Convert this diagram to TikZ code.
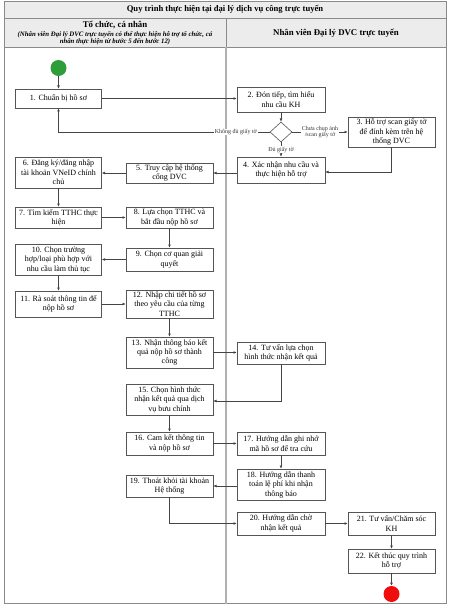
\documentclass[tikz,border=0pt]{standalone}
\usepackage{fontspec}
\setmainfont{Liberation Serif}
\usetikzlibrary{shapes.geometric,arrows.meta,calc}
\definecolor{framegray}{HTML}{8A8A8A}
\definecolor{headfill}{HTML}{ECECEC}
\definecolor{boxline}{HTML}{555555}
\definecolor{arrline}{HTML}{444444}
\definecolor{lanegray}{HTML}{B0B0B0}
\definecolor{startgreen}{HTML}{2E9E3A}
\definecolor{endred}{HTML}{F20D0D}
\tikzset{
  stepbox/.style={draw=boxline, line width=0.6pt, fill=white, align=center,
    font=\fontsize{8}{9.4}\selectfont, inner sep=0pt},
  colA/.style={stepbox, minimum width=86pt},
  colB/.style={stepbox, minimum width=87pt},
  colC/.style={stepbox, minimum width=88pt},
  colD/.style={stepbox, minimum width=87pt},
  arr/.style={draw=arrline, line width=0.55pt, -{Latex[length=3.2pt,width=2.8pt]}},
  lbl/.style={fill=white, inner sep=0.6pt, font=\fontsize{6}{6.6}\selectfont, align=center, text=black!80},
  subnote/.style={inner sep=0pt, font=\bfseries\itshape\fontsize{6.8}{7}\selectfont},
}
\begin{document}
\begin{tikzpicture}[x=1pt,y=-1pt]
\useasboundingbox (0,0) rectangle (448,604);
% header
\fill[headfill] (4.5,1) rectangle (446,47);
\draw[framegray, line width=0.8pt] (4.5,1) rectangle (446,603.5);
\draw[framegray, line width=0.8pt] (4.5,18) -- (446,18);
\draw[framegray, line width=0.8pt] (4.5,47) -- (446,47);
\draw[framegray, line width=0.8pt] (226,18) -- (226,47);
\draw[lanegray, line width=1.6pt] (226,47) -- (226,603.5);
\node[font=\bfseries\fontsize{8.6}{9}\selectfont] (title) at (225,9.8) {Quy trình thực hiện tại đại lý dịch vụ công trực tuyến};
\node[inner sep=0pt, font=\bfseries\fontsize{8.8}{9}\selectfont] (laneA) at (115,25) {Tổ chức, cá nhân};
\node[subnote] (noteA) at (115,34.5) {(Nhân viên Đại lý DVC trực tuyến có thể thực hiện hỗ trợ tổ chức, cá};
\node[subnote] (noteB) at (115,41.8) {nhân thực hiện từ bước 5 đến bước 12)};
\node[font=\bfseries\fontsize{8.8}{9}\selectfont] (laneB) at (336,33) {Nhân viên Đại lý DVC trực tuyến};

% start / end
\node[circle, fill=startgreen, minimum size=16pt, inner sep=0pt] (start) at (58.5,68) {};
\node[circle, fill=endred, minimum size=16pt, inner sep=0pt] (stop) at (391.5,594) {};

% boxes
\node[colA, minimum height=19pt] (b1) at (58.5,98.5) {1. Chuẩn bị hồ sơ};
\node[colC, minimum height=25pt] (b2) at (281,99.5) {2. Đón tiếp, tìm hiểu\\nhu cầu KH};
\node[colD, minimum height=30pt] (b3) at (391.5,132) {3. Hỗ trợ scan giấy tờ\\để đính kèm trên hệ\\thống DVC};
\node[colC, minimum height=26pt] (b4) at (281,170) {4. Xác nhận nhu cầu và\\thực hiện hỗ trợ};
\node[colB, minimum height=20pt] (b5) at (169.5,173) {5. Truy cập hệ thống\\cổng DVC};
\node[colA, minimum height=31pt] (b6) at (58.5,172.5) {6. Đăng ký/đăng nhập\\tài khoản VNeID chính\\chủ};
\node[colA, minimum height=21pt] (b7) at (58.5,217.5) {7. Tìm kiếm TTHC thực\\hiện};
\node[colB, minimum height=21pt] (b8) at (169.5,217.5) {8. Lựa chọn TTHC và\\bắt đầu nộp hồ sơ};
\node[colB, minimum height=23pt] (b9) at (169.5,259.5) {9. Chọn cơ quan giải\\quyết};
\node[colA, minimum height=31pt] (b10) at (58.5,259.5) {10. Chọn trường\\hợp/loại phù hợp với\\nhu cầu làm thủ tục};
\node[colA, minimum height=26pt] (b11) at (58.5,304) {11. Rà soát thông tin để\\nộp hồ sơ};
\node[colB, minimum height=28pt] (b12) at (169.5,304) {12. Nhập chi tiết hồ sơ\\theo yêu cầu của từng\\TTHC};
\node[colB, minimum height=31pt] (b13) at (169.5,352.5) {13. Nhận thông báo kết\\quả nộp hồ sơ thành\\công};
\node[colC, minimum height=22pt] (b14) at (281,353) {14. Tư vấn lựa chọn\\hình thức nhận kết quả};
\node[colB, minimum height=31pt] (b15) at (169.5,399.5) {15. Chọn hình thức\\nhận kết quả qua dịch\\vụ bưu chính};
\node[colB, minimum height=23pt] (b16) at (169.5,443.5) {16. Cam kết thông tin\\và nộp hồ sơ};
\node[colC, minimum height=23pt] (b17) at (281,443.5) {17. Hướng dẫn ghi nhớ\\mã hồ sơ để tra cứu};
\node[colC, minimum height=31pt] (b18) at (281,484.5) {18. Hướng dẫn thanh\\toán lệ phí khi nhận\\thông báo};
\node[colB, minimum height=22pt] (b19) at (169.5,486) {19. Thoát khỏi tài khoản\\Hệ thống};
\node[colC, minimum height=23pt] (b20) at (281,523.5) {20. Hướng dẫn chờ\\nhận kết quả};
\node[colD, minimum height=23pt] (b21) at (391.5,523.5) {21. Tư vấn/Chăm sóc\\KH};
\node[colD, minimum height=24pt] (b22) at (391.5,561) {22. Kết thúc quy trình\\hỗ trợ};

% decision
\node[diamond, draw=boxline, line width=0.6pt, fill=white, minimum width=22pt, minimum height=20pt, inner sep=0pt] (dec) at (281,132) {};

% connectors
\draw[arr] (start) -- (b1);
\draw[arr] (b1.east) -- (b1.east -| b2.west);
\draw[arr] (b2) -- (dec);
\draw[arr] (dec.west) -| node[lbl, pos=0.08] {Không đủ giấy tờ} (b1.south);
\draw[arr] (dec.east) -- node[lbl] {Chưa chụp ảnh\\/scan giấy tờ} (b3.west);
\draw[arr] (dec.south) -- node[lbl, pos=0.5] {Đủ giấy tờ} (b4.north);
\draw[arr] (b3.south) |- ($(b4.east)+(0,2)$);
\draw[arr] (b4.west |- b5) -- (b5.east);
\draw[arr] (b5.west) -- (b5.west -| b6.east);
\draw[arr] (b6) -- (b7);
\draw[arr] (b7) -- (b8);
\draw[arr] (b8) -- (b9);
\draw[arr] (b9) -- (b10);
\draw[arr] (b10) -- (b11);
\draw[arr] (b11) -- (b12);
\draw[arr] (b12) -- (b13);
\draw[arr] (b13.east) -- (b13.east -| b14.west);
\draw[arr] (b14.south) |- ($(b15.east)+(0,1.5)$);
\draw[arr] (b15) -- (b16);
\draw[arr] (b16) -- (b17);
\draw[arr] (b17) -- (b18);
\draw[arr] (b18.west |- b19) -- (b19.east);
\draw[arr] (b19.south) |- (b20.west);
\draw[arr] (b20) -- (b21);
\draw[arr] (b21) -- (b22);
\draw[arr] (b22) -- (stop);
\end{tikzpicture}
\end{document}
